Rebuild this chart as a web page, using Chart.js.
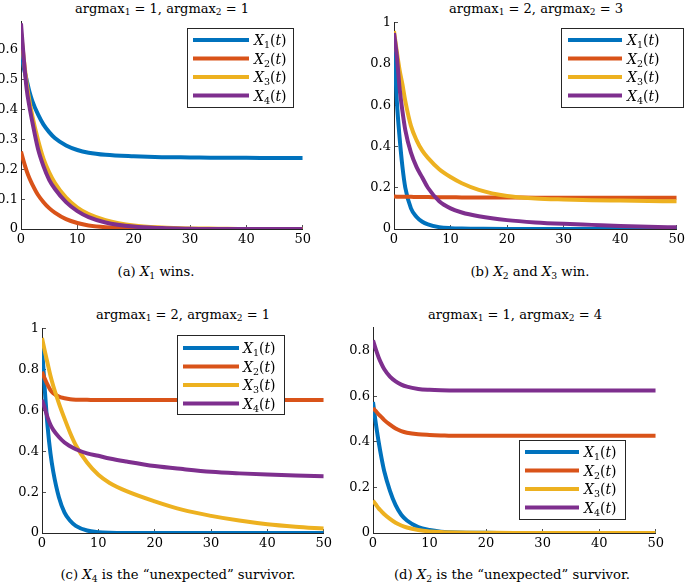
<!DOCTYPE html>
<html>
<head>
<meta charset="utf-8">
<script src="https://cdn.jsdelivr.net/npm/chart.js@4.4.0/dist/chart.umd.min.js"></script>
<style>
    body {
        margin: 0;
        width: 685px;
        height: 583px;
        position: relative;
        overflow: hidden;
        background: #fff;
        font-family: "DejaVu Serif", "Liberation Serif", serif;
        color: #000;
    }
    canvas { position: absolute; }
    .title, .caption {
        position: absolute;
        white-space: nowrap;
        transform: translate(-50%, -50%);
        line-height: 1;
    }
    .title { font-size: 13px; }
    .caption { font-size: 13.2px; }
    sub { font-size: 70%; vertical-align: -0.3em; line-height: 0; }
</style>
</head>
<body>
<div class="title" style="left:162px; top:8px">argmax<sub>1</sub> = 1, argmax<sub>2</sub> = 1</div>
<div class="title" style="left:536px; top:8px">argmax<sub>1</sub> = 2, argmax<sub>2</sub> = 3</div>
<div class="title" style="left:183px; top:314px">argmax<sub>1</sub> = 2, argmax<sub>2</sub> = 1</div>
<div class="title" style="left:515px; top:314px">argmax<sub>1</sub> = 1, argmax<sub>2</sub> = 4</div>

<div class="caption" style="left:156px; top:272px">(a) <i>X</i><sub>1</sub> wins.</div>
<div class="caption" style="left:530px; top:272px">(b) <i>X</i><sub>2</sub> and <i>X</i><sub>3</sub> win.</div>
<div class="caption" style="left:178px; top:575px">(c) <i>X</i><sub>4</sub> is the “unexpected” survivor.</div>
<div class="caption" style="left:512px; top:575px">(d) <i>X</i><sub>2</sub> is the “unexpected” survivor.</div>

<canvas id="chartA"></canvas>
<canvas id="chartB"></canvas>
<canvas id="chartC"></canvas>
<canvas id="chartD"></canvas>

<script>
// Time samples shared by every curve
const timePoints = [0, 0.5, 1, 1.5, 2, 3, 4, 5, 6, 8, 10, 12, 15, 20, 25, 30, 35, 40, 45, 50];
const seriesLabels = ['X₁(t)', 'X₂(t)', 'X₃(t)', 'X₄(t)'];
const xTicks = [0, 10, 20, 30, 40, 50];

// (a) X1 wins
const aX1 = [0.59, 0.54, 0.50, 0.46, 0.43, 0.385, 0.35, 0.325, 0.305, 0.28, 0.265, 0.256, 0.249, 0.244, 0.241, 0.24, 0.239, 0.239, 0.238, 0.238];
const aX2 = [0.26, 0.225, 0.195, 0.17, 0.15, 0.115, 0.09, 0.07, 0.055, 0.033, 0.02, 0.012, 0.006, 0.002, 0.001, 0, 0, 0, 0, 0];
const aX3 = [0.66, 0.57, 0.49, 0.43, 0.38, 0.30, 0.235, 0.19, 0.155, 0.105, 0.072, 0.05, 0.03, 0.012, 0.005, 0.002, 0.001, 0, 0, 0];
const aX4 = [0.69, 0.57, 0.47, 0.41, 0.36, 0.27, 0.21, 0.165, 0.135, 0.09, 0.06, 0.04, 0.022, 0.008, 0.003, 0.001, 0, 0, 0, 0];
const aYTicks = [0, 0.1, 0.2, 0.3, 0.4, 0.5, 0.6];

// (b) X2 and X3 win
const bX1 = [0.9, 0.62, 0.44, 0.30, 0.2, 0.1, 0.058, 0.035, 0.022, 0.009, 0.004, 0.002, 0.001, 0, 0, 0, 0, 0, 0, 0];
const bX2 = [0.158, 0.157, 0.157, 0.156, 0.156, 0.156, 0.155, 0.155, 0.155, 0.154, 0.154, 0.153, 0.153, 0.153, 0.152, 0.152, 0.152, 0.152, 0.152, 0.152];
const bX3 = [0.96, 0.86, 0.77, 0.70, 0.62, 0.50, 0.43, 0.38, 0.345, 0.29, 0.252, 0.222, 0.19, 0.16, 0.148, 0.143, 0.14, 0.138, 0.136, 0.134];
const bX4 = [0.95, 0.84, 0.68, 0.57, 0.48, 0.37, 0.30, 0.25, 0.20, 0.135, 0.10, 0.08, 0.062, 0.043, 0.032, 0.025, 0.02, 0.015, 0.011, 0.008];
const bYTicks = [0, 0.2, 0.4, 0.6, 0.8, 1];

// (c) X4 is the unexpected survivor
const cX1 = [0.91, 0.70, 0.52, 0.39, 0.30, 0.175, 0.10, 0.06, 0.035, 0.012, 0.004, 0.001, 0, 0, 0, 0, 0, 0, 0, 0];
const cX2 = [0.79, 0.755, 0.725, 0.70, 0.685, 0.668, 0.66, 0.655, 0.653, 0.652, 0.651, 0.651, 0.651, 0.651, 0.651, 0.651, 0.651, 0.651, 0.651, 0.651];
const cX3 = [0.955, 0.89, 0.83, 0.77, 0.72, 0.635, 0.56, 0.49, 0.43, 0.345, 0.285, 0.245, 0.205, 0.155, 0.113, 0.084, 0.061, 0.043, 0.031, 0.022];
const cX4 = [0.652, 0.61, 0.565, 0.53, 0.505, 0.47, 0.443, 0.425, 0.41, 0.39, 0.378, 0.365, 0.35, 0.328, 0.313, 0.30, 0.292, 0.286, 0.281, 0.278];
const cYTicks = [0, 0.2, 0.4, 0.6, 0.8, 1];

// (d) X2 is the unexpected survivor
const dX1 = [0.575, 0.48, 0.40, 0.33, 0.27, 0.185, 0.122, 0.08, 0.055, 0.026, 0.013, 0.006, 0.002, 0.001, 0, 0, 0, 0, 0, 0];
const dX2 = [0.548, 0.535, 0.52, 0.508, 0.495, 0.475, 0.458, 0.447, 0.44, 0.433, 0.43, 0.428, 0.426, 0.426, 0.426, 0.426, 0.426, 0.426, 0.426, 0.426];
const dX3 = [0.142, 0.125, 0.108, 0.095, 0.082, 0.062, 0.045, 0.033, 0.024, 0.013, 0.007, 0.004, 0.002, 0.001, 0, 0, 0, 0, 0, 0];
const dX4 = [0.845, 0.805, 0.77, 0.742, 0.718, 0.686, 0.665, 0.651, 0.642, 0.632, 0.628, 0.626, 0.625, 0.625, 0.625, 0.625, 0.625, 0.625, 0.625, 0.625];
const dYTicks = [0, 0.2, 0.4, 0.6, 0.8];

const COLORS = ['#0072BD', '#D95319', '#EDB120', '#7E2F8E'];
const AXIS_COLOR = '#262626';
const FONT = '"DejaVu Serif", "Liberation Serif", serif';

// Y axis width / x axis height reserved inside each canvas
const Y_AXIS_W = 40;
const X_AXIS_H = 26;
const PAD_TOP = 10;
const PAD_RIGHT = 14;

// Draw labels like X₁(t): letters italic, subscript digits small and lowered
function drawMathLabel(ctx, text, x, baseline) {
    const subs = { '₁': '1', '₂': '2', '₃': '3', '₄': '4' };
    ctx.textBaseline = 'alphabetic';
    ctx.textAlign = 'left';
    ctx.fillStyle = '#000';
    for (const ch of text) {
        let y = baseline;
        let str = ch;
        if (subs[ch]) {
            str = subs[ch];
            ctx.font = '9.5px ' + FONT;
            y += 3;
        } else if (/[A-Za-z]/.test(ch)) {
            ctx.font = 'italic 14px ' + FONT;
        } else {
            ctx.font = '14px ' + FONT;
        }
        ctx.fillText(str, x, y);
        x += ctx.measureText(str).width;
    }
}

// Legend drawn inside the axes, MATLAB style
const boxLegend = {
    id: 'boxLegend',
    afterDatasetsDraw(chart, args, opts) {
        const ctx = chart.ctx;
        const x = opts.x - opts.offsetX;
        const y = opts.y - opts.offsetY;
        ctx.save();
        ctx.fillStyle = '#fff';
        ctx.fillRect(x, y, opts.w, opts.h);
        ctx.strokeStyle = AXIS_COLOR;
        ctx.lineWidth = 1;
        ctx.strokeRect(x + 0.5, y + 0.5, opts.w, opts.h);
        chart.data.datasets.forEach((ds, i) => {
            const cy = y + opts.firstRow + i * opts.rowH;
            ctx.strokeStyle = ds.borderColor;
            ctx.lineWidth = 4;
            ctx.beginPath();
            ctx.moveTo(x + opts.lineStart, cy);
            ctx.lineTo(x + opts.lineStart + opts.lineLen, cy);
            ctx.stroke();
            drawMathLabel(ctx, ds.label, x + opts.textStart, cy + 5);
        });
        ctx.restore();
    }
};

function makeDatasets(series) {
    return series.map((values, i) => ({
        label: seriesLabels[i],
        data: timePoints.map((t, k) => ({ x: t, y: values[k] })),
        borderColor: COLORS[i],
        backgroundColor: COLORS[i],
        borderWidth: 4,
        pointRadius: 0,
        fill: false,
        cubicInterpolationMode: 'monotone',
        order: -i
    }));
}

function axisOptions(ticks, min, max, isX) {
    return {
        type: 'linear',
        min: min,
        max: max,
        afterFit: scale => {
            if (isX) scale.height = X_AXIS_H;
            else scale.width = Y_AXIS_W;
        },
        afterBuildTicks: scale => {
            scale.ticks = ticks.map(v => ({ value: v }));
        },
        grid: {
            display: true,
            drawOnChartArea: false,
            drawTicks: true,
            tickLength: -4,
            color: AXIS_COLOR,
            lineWidth: 0.8
        },
        border: { display: true, color: AXIS_COLOR, width: 1 },
        ticks: {
            color: '#000',
            font: { family: FONT, size: 13 },
            padding: isX ? 7 : 7,
            maxRotation: 0,
            autoSkip: false,
            callback: v => String(Math.round(v * 100) / 100)
        }
    };
}

// area = page coordinates of the axes box
function makePanel(canvasId, area, yMax, yTicks, series, legend) {
    const canvas = document.getElementById(canvasId);
    const left = area.left - Y_AXIS_W;
    const top = area.top - PAD_TOP;
    canvas.width = area.right - left + PAD_RIGHT;
    canvas.height = area.bottom - top + X_AXIS_H;
    canvas.style.left = left + 'px';
    canvas.style.top = top + 'px';

    return new Chart(canvas.getContext('2d'), {
        type: 'line',
        data: { datasets: makeDatasets(series) },
        options: {
            responsive: false,
            animation: false,
            devicePixelRatio: 1,
            layout: { padding: { left: 0, top: PAD_TOP, right: PAD_RIGHT, bottom: 0 } },
            plugins: {
                legend: { display: false },
                tooltip: { enabled: false },
                boxLegend: Object.assign({ offsetX: left, offsetY: top }, legend)
            },
            scales: {
                x: axisOptions(xTicks, 0, 50, true),
                y: axisOptions(yTicks, 0, yMax, false)
            }
        },
        plugins: [boxLegend]
    });
}

document.addEventListener('DOMContentLoaded', function() {
    makePanel('chartA', { left: 21, right: 304, top: 17, bottom: 229 }, 0.695, aYTicks,
        [aX1, aX2, aX3, aX4],
        { x: 187, y: 28, w: 106, h: 79, lineStart: 6, lineLen: 56, textStart: 67, firstRow: 12, rowH: 18.5 });

    makePanel('chartB', { left: 394, right: 678, top: 18, bottom: 229 }, 1, bYTicks,
        [bX1, bX2, bX3, bX4],
        { x: 561, y: 28, w: 122, h: 79, lineStart: 7, lineLen: 54, textStart: 66, firstRow: 12, rowH: 18.5 });

    makePanel('chartC', { left: 42, right: 325, top: 324, bottom: 533 }, 1, cYTicks,
        [cX1, cX2, cX3, cX4],
        { x: 177, y: 335, w: 107, h: 79, lineStart: 6, lineLen: 56, textStart: 66, firstRow: 13, rowH: 18.5 });

    makePanel('chartD', { left: 373, right: 657, top: 323, bottom: 533 }, 0.9, dYTicks,
        [dX1, dX2, dX3, dX4],
        { x: 519, y: 440, w: 106, h: 79, lineStart: 6, lineLen: 54, textStart: 65, firstRow: 12, rowH: 18.5 });
});
</script>
</body>
</html>
